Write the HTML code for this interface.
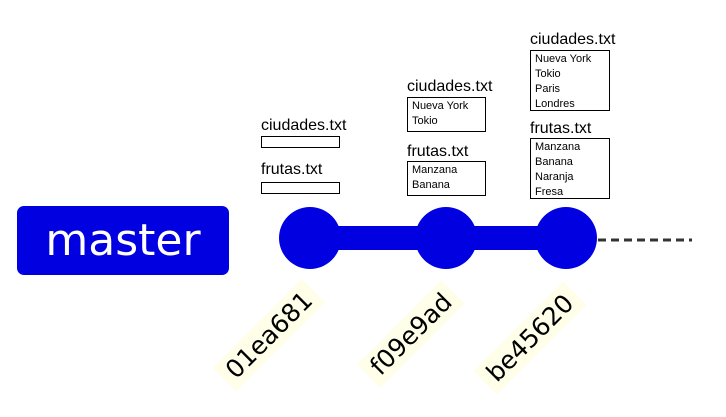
<!DOCTYPE html>
<html><head><meta charset="utf-8"><style>
body{margin:0;width:726px;height:417px;background:#fff;position:relative;overflow:hidden;font-family:"Liberation Sans",sans-serif}
.a{position:absolute}
.t{position:absolute;font-size:16px;color:#000;line-height:16px}
.b{position:absolute;border:1px solid #000;box-sizing:border-box;font-size:11px;line-height:15px;padding:1px 0 0 4px;color:#000}
.h{position:absolute;font-family:"DejaVu Sans",sans-serif;font-size:25px;color:#000;background:#fefee9;padding:2px 8px;transform:translate(-50%,-50%) rotate(-45deg);white-space:nowrap}
</style></head><body>
<div class="a" style="left:17px;top:206px;width:212px;height:69px;background:#0000e0;border-radius:7px;color:#fff;font-family:'DejaVu Sans',sans-serif;font-size:44px;line-height:69px;text-align:center">master</div>
<svg class="a" style="left:0;top:0" width="726" height="417">
<rect x="310" y="226" width="256" height="24" fill="#0000e0"/>
<circle cx="310" cy="238" r="31" fill="#0000e0"/>
<circle cx="446" cy="238" r="31" fill="#0000e0"/>
<circle cx="566" cy="238" r="31" fill="#0000e0"/>
<line x1="598" y1="240" x2="692" y2="240" stroke="#333" stroke-width="3" stroke-dasharray="8,5"/>
</svg>
<div class="t" style="left:261px;top:118px">ciudades.txt</div>
<div class="b" style="left:261px;top:136px;width:79px;height:12px"></div>
<div class="t" style="left:261px;top:162px">frutas.txt</div>
<div class="b" style="left:261px;top:182px;width:79px;height:12px"></div>
<div class="t" style="left:407px;top:79px">ciudades.txt</div>
<div class="b" style="left:407px;top:97px;width:79px;height:35px">Nueva York<br>Tokio</div>
<div class="t" style="left:407px;top:144px">frutas.txt</div>
<div class="b" style="left:407px;top:161px;width:79px;height:35px">Manzana<br>Banana</div>
<div class="t" style="left:530px;top:32px">ciudades.txt</div>
<div class="b" style="left:530px;top:50px;width:80px;height:61px">Nueva York<br>Tokio<br>Paris<br>Londres</div>
<div class="t" style="left:530px;top:121px">frutas.txt</div>
<div class="b" style="left:530px;top:138px;width:80px;height:61px">Manzana<br>Banana<br>Naranja<br>Fresa</div>
<div class="h" style="left:269px;top:335px">01ea681</div>
<div class="h" style="left:411px;top:334px">f09e9ad</div>
<div class="h" style="left:530px;top:338px">be45620</div>
</body></html>
